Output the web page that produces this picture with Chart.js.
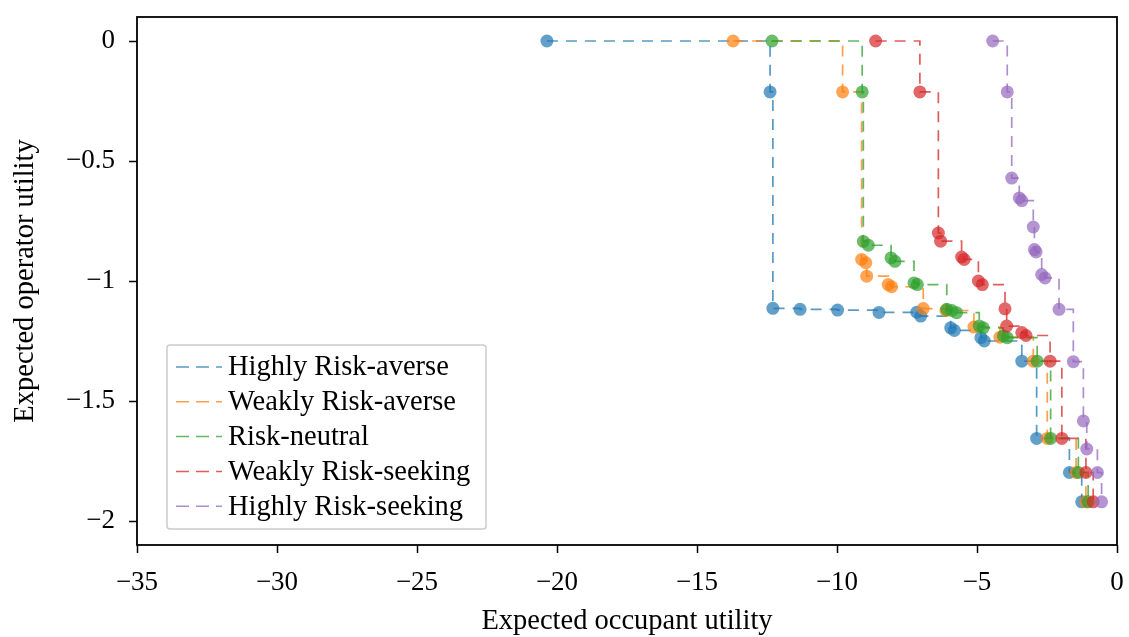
<!DOCTYPE html>
<html>
<head>
<meta charset="utf-8">
<script src="https://cdn.jsdelivr.net/npm/chart.js@4.4.1/dist/chart.umd.min.js"></script>
<style>
  html, body { margin: 0; padding: 0; background: #fff; }
  #wrap { width: 1129px; height: 637px; }
</style>
</head>
<body>
<div id="wrap"><canvas id="paretoChart"></canvas></div>
<script>
const seriesLabels = ["Highly Risk-averse", "Weakly Risk-averse", "Risk-neutral", "Weakly Risk-seeking", "Highly Risk-seeking"];
const seriesColors = ["31,119,180", "255,127,14", "44,160,44", "214,39,40", "148,103,189"];

const xTicks = [-35, -30, -25, -20, -15, -10, -5, 0];
const yTicks = [0, -0.5, -1, -1.5, -2];

// occupant utility (x) / operator utility (y) per policy
const highlyAverseX = [-20.36, -12.39, -12.29, -11.32, -9.98, -8.5, -7.15, -7.01, -5.94, -5.81, -4.86, -4.74, -3.4, -2.87, -1.7, -1.26];
const highlyAverseY = [0, -0.212, -1.114, -1.118, -1.121, -1.131, -1.13, -1.146, -1.195, -1.206, -1.236, -1.25, -1.334, -1.656, -1.798, -1.92];

const weaklyAverseX = [-13.71, -9.8, -9.12, -8.97, -8.94, -8.17, -8.05, -6.92, -6.11, -5.11, -4.18, -2.99, -2.49, -1.46, -1.11];
const weaklyAverseY = [0, -0.212, -0.91, -0.924, -0.98, -1.015, -1.024, -1.115, -1.123, -1.192, -1.234, -1.334, -1.656, -1.798, -1.92];

const neutralX = [-12.32, -9.1, -9.06, -8.88, -8.07, -7.93, -7.25, -7.13, -6.08, -5.9, -5.73, -4.92, -4.78, -4.06, -3.92, -2.85, -2.37, -1.38, -1.03];
const neutralY = [0, -0.212, -0.835, -0.851, -0.904, -0.918, -1.008, -1.015, -1.118, -1.123, -1.132, -1.188, -1.195, -1.229, -1.236, -1.334, -1.656, -1.798, -1.92];

const weaklySeekingX = [-8.62, -7.04, -6.38, -6.3, -5.55, -5.46, -4.95, -4.81, -4.0, -3.94, -3.4, -3.25, -2.39, -1.97, -1.11, -0.85];
const weaklySeekingY = [0, -0.212, -0.8, -0.834, -0.9, -0.91, -1.0, -1.015, -1.116, -1.188, -1.215, -1.227, -1.334, -1.656, -1.798, -1.92];

const highlySeekingX = [-4.44, -3.92, -3.76, -3.49, -3.4, -2.99, -2.95, -2.89, -2.69, -2.57, -2.07, -1.56, -1.2, -1.08, -0.7, -0.55];
const highlySeekingY = [0, -0.212, -0.571, -0.654, -0.665, -0.775, -0.869, -0.879, -0.973, -0.987, -1.118, -1.336, -1.583, -1.7, -1.798, -1.92];

const allX = [highlyAverseX, weaklyAverseX, neutralX, weaklySeekingX, highlySeekingX];
const allY = [highlyAverseY, weaklyAverseY, neutralY, weaklySeekingY, highlySeekingY];

const serif = "'Liberation Serif', 'DejaVu Serif', serif";
const dashPattern = [11, 8];

function toPoints(xs, ys) {
    return xs.map((x, i) => ({ x: x, y: ys[i] }));
}

function fmt(v) {
    return String(v).replace('-', '\u2212');
}

const datasets = seriesLabels.map((label, i) => ({
    label: label,
    data: toPoints(allX[i], allY[i]),
    stepped: true,
    borderColor: 'rgba(' + seriesColors[i] + ',0.75)',
    borderWidth: 1.7,
    borderDash: dashPattern,
    backgroundColor: 'rgba(' + seriesColors[i] + ',0.7)',
    pointBackgroundColor: 'rgba(' + seriesColors[i] + ',0.7)',
    pointBorderWidth: 0,
    pointRadius: 6.5,
    pointHoverRadius: 6.5,
    fill: false,
    order: seriesLabels.length - i
}));

// box around the plot area, like the other two spines
const frame = {
    id: 'frame',
    afterDraw(chart) {
        const a = chart.chartArea;
        const ctx = chart.ctx;
        ctx.save();
        ctx.strokeStyle = '#000';
        ctx.lineWidth = 1.8;
        ctx.strokeRect(a.left, a.top, a.right - a.left, a.bottom - a.top);
        ctx.restore();
    }
};

// legend drawn inside the axes, lower left
const insideLegend = {
    id: 'insideLegend',
    afterDraw(chart) {
        const ctx = chart.ctx;
        const box = { x: 167, y: 345, w: 319, h: 184 };
        ctx.save();
        ctx.fillStyle = 'rgba(255,255,255,0.85)';
        ctx.strokeStyle = '#cccccc';
        ctx.lineWidth = 1.5;
        ctx.beginPath();
        ctx.roundRect(box.x, box.y, box.w, box.h, 3);
        ctx.fill();
        ctx.stroke();
        ctx.font = '28.5px ' + serif;
        ctx.textBaseline = 'middle';
        chart.data.datasets.forEach((ds, i) => {
            const cy = 367 + i * 34.8;
            ctx.strokeStyle = 'rgba(' + seriesColors[i] + ',0.75)';
            ctx.lineWidth = 1.5;
            ctx.setLineDash([13, 7]);
            ctx.beginPath();
            ctx.moveTo(176, cy);
            ctx.lineTo(222, cy);
            ctx.stroke();
            ctx.setLineDash([]);
            ctx.fillStyle = '#000';
            ctx.fillText(ds.label, 228, cy + 1);
        });
        ctx.restore();
    }
};

document.addEventListener('DOMContentLoaded', function () {
    new Chart("paretoChart", {
        type: "line",
        data: { datasets: datasets },
        options: {
            responsive: true,
            maintainAspectRatio: false,
            animation: false,
            layout: { padding: { top: 17, right: 12, left: 0, bottom: 0 } },
            plugins: {
                legend: { display: false },
                tooltip: { enabled: false }
            },
            scales: {
                x: {
                    type: 'linear',
                    min: -35,
                    max: 0,
                    afterBuildTicks: s => { s.ticks = xTicks.map(v => ({ value: v })); },
                    afterFit: s => { s.height = 92; s.paddingLeft = 0; s.paddingRight = 0; },
                    ticks: {
                        callback: v => fmt(v),
                        color: '#000',
                        padding: 14,
                        maxRotation: 0,
                        font: { family: serif, size: 27 }
                    },
                    grid: { drawOnChartArea: false, tickLength: 8, color: '#000', tickWidth: 1.5 },
                    border: { display: false },
                    title: {
                        display: true,
                        text: 'Expected occupant utility',
                        color: '#000',
                        padding: { top: 6, bottom: 0 },
                        font: { family: serif, size: 28.5, lineHeight: 1.1 }
                    }
                },
                y: {
                    type: 'linear',
                    min: -2.1,
                    max: 0.1,
                    afterBuildTicks: s => { s.ticks = yTicks.map(v => ({ value: v })); },
                    afterFit: s => { s.width = 137; s.paddingTop = 0; s.paddingBottom = 0; },
                    ticks: {
                        callback: v => fmt(v),
                        color: '#000',
                        padding: 14,
                        font: { family: serif, size: 27 }
                    },
                    grid: { drawOnChartArea: false, tickLength: 8, color: '#000', tickWidth: 1.5 },
                    border: { display: false },
                    title: {
                        display: true,
                        text: 'Expected operator utility',
                        color: '#000',
                        padding: { top: 8, bottom: 0 },
                        font: { family: serif, size: 28.5 }
                    }
                }
            }
        },
        plugins: [frame, insideLegend]
    });
});
</script>
</body>
</html>
